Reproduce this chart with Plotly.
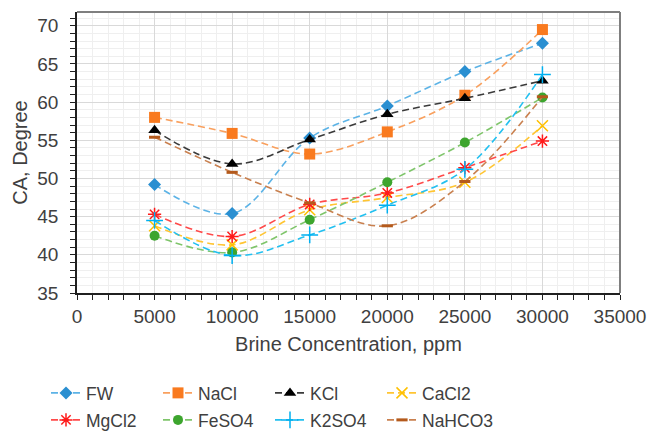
import plotly.graph_objects as go

conc = [5000, 10000, 15000, 20000, 25000, 30000]

fw = [49.2, 45.4, 55.3, 59.5, 64.0, 67.7]
nacl = [58.0, 55.9, 53.2, 56.1, 60.9, 69.5]
kcl = [56.3, 51.9, 55.1, 58.4, 60.5, 62.8]
cacl2 = [43.8, 41.3, 45.9, 47.5, 49.5, 56.9]
mgcl2 = [45.3, 42.4, 46.6, 48.1, 51.4, 54.9]
feso4 = [42.5, 40.3, 44.6, 49.5, 54.7, 60.6]
k2so4 = [44.5, 39.9, 42.6, 46.5, 51.2, 63.6]
nahco3 = [55.4, 50.8, 46.8, 43.8, 49.6, 60.7]

x_ticks = [0, 5000, 10000, 15000, 20000, 25000, 30000, 35000]
y_ticks = [35, 40, 45, 50, 55, 60, 65, 70]

series = [
    ("FW", fw, "#5cb3e6", "#2a8fd1", "diamond", 10, "legend"),
    ("NaCl", nacl, "#f9a05e", "#f97a1f", "square", 11, "legend"),
    ("KCl", kcl, "#3a3a3a", "#000000", "triangle-up", 11, "legend"),
    ("CaCl2", cacl2, "#ffc533", "#ffc000", "x-thin-open", 11, "legend"),
    ("MgCl2", mgcl2, "#ff4a4a", "#ff1a1a", "asterisk-open", 11, "legend2"),
    ("FeSO4", feso4, "#7fc56b", "#3da52e", "circle", 10, "legend2"),
    ("K2SO4", k2so4, "#22c0f0", "#00b0f0", "cross-thin-open", 12, "legend2"),
    ("NaHCO3", nahco3, "#c9804f", "#b45a1c", "line-ew-open", 8, "legend2"),
]

fig = go.Figure()
for name, vals, lc, mc, sym, sz, leg in series:
    open_sym = sym.endswith("open")
    fig.add_trace(go.Scatter(
        x=conc, y=vals, name=name, mode="lines+markers", legend=leg,
        line=dict(color=lc, width=1.6, dash="7px,4px", shape="spline", smoothing=1),
        marker=dict(symbol=sym, size=sz, color=mc,
                    line=dict(color=mc, width=(3 if sym == "line-ew-open" else 1.5) if open_sym else 0)),
    ))

font = "Liberation Sans, Arial, sans-serif"
tc = "#404040"
yr = [35, 71.8]
xr = [0, 35000]

legend_common = dict(
    orientation="h", xref="container", yref="container", xanchor="left", yanchor="middle",
    font=dict(size=17.5, color=tc), entrywidth=67, entrywidthmode="pixels",
    itemwidth=30, bgcolor="rgba(0,0,0,0)", borderwidth=0,
)

fig.update_layout(
    width=648, height=435,
    margin=dict(l=77, r=28, t=12, b=142, autoexpand=False),
    paper_bgcolor="white", plot_bgcolor="white",
    font=dict(family=font, size=19, color=tc),
    xaxis=dict(
        range=xr, tickvals=x_ticks, ticktext=[str(v) for v in x_ticks], automargin=False,
        showline=True, linecolor="#202020", linewidth=1.5,
        ticks="outside", ticklen=5, tickcolor="#202020", tickwidth=1,
        showgrid=True, gridcolor="#d9d9d9", gridwidth=1, zeroline=False,
        minor=dict(dtick=1000, showgrid=True, gridcolor="#efefef", ticks="outside",
                   ticklen=5, tickcolor="#202020", tickwidth=1),
        title=dict(text="Brine Concentration, ppm", standoff=11, font=dict(size=20)),
        tickfont=dict(size=19), ticklabelstandoff=0,
    ),
    yaxis=dict(
        range=yr, tickvals=y_ticks, ticktext=[str(v) for v in y_ticks], automargin=False,
        showline=True, linecolor="#202020", linewidth=1.5,
        ticks="outside", ticklen=5, tickcolor="#202020", tickwidth=1,
        showgrid=True, gridcolor="#d9d9d9", gridwidth=1, zeroline=False,
        minor=dict(dtick=1, showgrid=True, gridcolor="#efefef", ticks="outside",
                   ticklen=5, tickcolor="#202020", tickwidth=1),
        title=dict(text="CA, Degree", standoff=4, font=dict(size=20)),
        tickfont=dict(size=19), ticklabelstandoff=8,
    ),
    xaxis2=dict(
        overlaying="x", anchor="y", side="bottom", range=xr, dtick=5000, tick0=0,
        ticks="inside", ticklen=5, tickcolor="#202020", showticklabels=False,
        showgrid=False, zeroline=False, showline=False, automargin=False,
        minor=dict(dtick=1000, ticks="inside", ticklen=5, tickcolor="#202020", showgrid=False),
    ),
    yaxis2=dict(
        overlaying="y", anchor="x", side="left", range=yr, dtick=5, tick0=35,
        ticks="inside", ticklen=5, tickcolor="#202020", showticklabels=False,
        showgrid=False, zeroline=False, showline=False, automargin=False,
        minor=dict(dtick=1, ticks="inside", ticklen=5, tickcolor="#202020", showgrid=False),
    ),
    legend=dict(x=46 / 648, y=1 - 393 / 435, **legend_common),
    legend2=dict(x=46 / 648, y=1 - 420 / 435, **legend_common),
    showlegend=True,
)

fig.add_shape(type="line", xref="paper", yref="paper", x0=0, x1=1, y0=1, y1=1,
              line=dict(color="#7f7f7f", width=2))
fig.add_shape(type="line", xref="paper", yref="paper", x0=1, x1=1, y0=0, y1=1,
              line=dict(color="#7f7f7f", width=2))

fig.write_html(
    "out.html",
    config={"displayModeBar": False},
    post_script="document.body.style.margin='0';document.body.style.overflow='hidden';",
)
